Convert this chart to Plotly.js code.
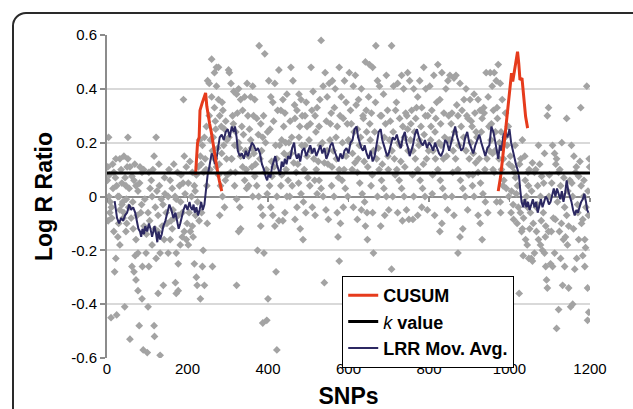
<!DOCTYPE html>
<html>
<head>
<meta charset="utf-8">
<script src="https://cdn.plot.ly/plotly-3.0.1.min.js"></script>
<style>
  html, body { margin: 0; padding: 0; background: #ffffff; overflow: hidden; }
  #frame { position: absolute; left: 12px; top: 12px; width: 700px; height: 500px;
           border: 2px solid #2a2a2a; border-radius: 14px; box-sizing: border-box; }
  #chart { position: absolute; left: 0; top: 0; width: 633px; height: 409px; }
</style>
</head>
<body>
<div id="frame"></div>
<div id="chart"></div>
<script>
// ---- data ----
const snpX = [
  4,2,5,7,12,10,24,17,22,27,32,27,37,42,47,44,32,17,24,30,37,42,47,50,22,32,40,48,15,3,8,1,14,19,
  52,57,62,67,72,77,80,87,90,100,52,57,62,67,72,77,82,87,94,54,60,65,72,84,92,97,77,70,88,
  102,117,118,127,132,122,107,112,120,127,137,142,104,110,117,130,135,144,104,112,122,132,140,147,127,102,
  170,172,177,152,157,162,167,172,177,182,187,192,197,157,162,172,180,184,190,192,197,152,164,177,187,194,
  202,207,212,217,222,224,232,242,237,204,210,217,222,227,232,237,242,247,250,230,225,220,240,244,248,202,212,235,
  260,267,272,277,254,260,267,272,277,280,284,288,292,257,262,267,272,277,282,287,292,262,280,285,297,294,254,270,298,302,
  304,308,315,322,327,332,337,342,312,320,327,332,337,342,347,307,317,322,330,332,327,322,317,344,310,335,348,
  362,357,367,372,378,392,382,387,394,352,360,367,372,377,382,387,352,362,374,382,390,387,397,400,357,365,380,392,398,
  402,407,412,417,427,432,437,442,447,422,420,407,412,417,427,437,442,447,404,410,415,422,429,434,440,445,450,432,422,
  457,462,477,482,472,467,492,497,452,457,464,470,476,482,488,494,467,472,480,487,454,460,492,497,477,484,
  507,512,522,532,537,542,547,517,527,502,507,514,520,527,532,537,544,550,510,517,504,540,547,530,540,522,
  552,560,567,577,582,590,594,557,572,587,554,562,570,577,584,592,598,564,572,580,574,577,558,587,594,600,
  602,612,617,625,632,642,644,650,607,622,637,604,610,616,622,628,634,640,646,612,622,632,642,647,627,648,
  652,660,668,672,677,687,694,657,667,682,697,654,662,670,676,682,688,694,700,662,660,672,680,690,698,656,
  707,712,722,732,737,747,707,717,727,742,702,708,714,720,726,732,738,744,750,722,734,710,728,748,740,747,
  752,762,772,777,787,792,757,767,782,797,754,760,766,772,778,784,790,796,760,772,782,794,762,776,788,
  802,812,822,827,832,842,847,807,817,837,804,810,816,822,828,834,840,846,827,832,814,844,850,808,830,
  852,862,867,872,877,887,892,857,872,882,897,854,860,866,872,878,884,890,896,862,884,877,857,892,900,
  902,912,922,927,932,942,947,907,917,937,904,910,916,922,928,934,940,946,912,927,932,922,908,944,950,
  952,962,972,957,967,977,982,960,970,990,997,954,964,974,980,986,992,998,958,968,977,984,994,962,978,
  1002,1007,1012,1020,1024,1027,1032,1034,1037,1042,1047,1004,1010,1017,1022,1030,1040,1044,1050,1014,1028,1038,1046,1032,1048,
  1054,1057,1062,1067,1072,1077,1082,1087,1090,1092,1094,1097,1094,1057,1062,1070,1077,1084,1090,1097,1052,1067,1080,1087,1072,1098,
  1102,1107,1112,1117,1122,1127,1132,1137,1142,1147,1107,1112,1117,1122,1127,1132,1137,1142,1147,1104,1114,1124,1134,1144,1130,1150,
  1152,1157,1162,1167,1172,1177,1182,1187,1192,1194,1197,1194,1154,1160,1166,1172,1178,1184,1190,1196,1157,1170,1182,1198,1199,1187,
  6,11,21,29,35,39,45,49, 55,64,69,75,81,86,91,98, 106,114,119,124,129,139,143,149, 154,159,166,169,175,183,189,199,
  206,214,219,229,234,239,246,249, 256,264,269,275,279,286,290,299,295, 303,309,314,319,324,329,339,346,350,
  354,359,364,369,376,384,389,396,399, 405,409,414,419,424,434,439,444,449, 455,459,466,474,479,485,490,495,499,
  505,509,516,519,525,529,535,545,549, 555,559,565,569,575,579,585,589,597, 605,609,614,619,624,630,636,639,645,
  653,659,665,674,679,684,689,692,699, 704,711,716,719,724,730,735,739,745, 755,759,764,769,775,780,786,791,799,
  805,809,815,819,825,829,836,839,849, 855,859,864,869,874,880,886,894,899, 905,909,914,919,925,930,936,939,949,
  955,959,965,969,975,979,985,989,999, 1005,1009,1015,1019,1025,1035,1039,1045,1049, 1055,1059,1065,1069,1075,1079,1085,1089,1099,
  1105,1109,1115,1119,1125,1129,1135,1139,1145, 1155,1159,1164,1169,1175,1179,1185,1189,1195
];
const lrrY = [
  0.22,0.11,0.0,-0.06,-0.08,-0.45,-0.44,-0.13,-0.23,-0.15,-0.18,0.0,0.05,0.15,0.04,-0.41,0.14,0.09,0.04,0.0,-0.03,-0.06,-0.13,0.11,0.14,-0.05,-0.08,-0.01,0.03,-0.09,-0.02,0.06,0.12,-0.28,
  0.22,-0.53,-0.26,-0.28,-0.31,-0.35,-0.48,-0.38,-0.57,-0.58,0.14,0.11,0.075,0.06,0.04,0.02,0.11,0.09,-0.01,-0.04,-0.08,-0.12,-0.16,-0.06,-0.11,-0.21,-0.21,-0.22,-0.26,
  -0.41,-0.48,-0.52,-0.36,-0.59,0.22,0.03,0.0,-0.04,-0.07,-0.11,-0.16,0.09,0.06,0.15,0.04,-0.01,0.01,-0.26,-0.18,-0.23,-0.21,-0.33,-0.06,-0.13,-0.06,
  -0.32,-0.36,-0.35,-0.21,-0.16,-0.12,-0.08,-0.21,-0.25,-0.18,-0.15,-0.13,-0.16,0.06,0.03,-0.01,0.04,0.08,0.36,0.15,0.11,0.0,-0.05,-0.07,-0.06,0.01,
  -0.18,-0.13,-0.11,-0.25,-0.3,-0.33,-0.38,-0.33,-0.26,-0.06,0.0,0.04,0.08,0.11,0.15,0.19,0.22,0.26,0.43,0.21,-0.02,-0.07,0.09,0.14,0.04,0.05,0.09,-0.06,
  0.51,0.46,0.48,0.48,0.42,0.37,0.33,0.41,0.36,0.3,0.26,0.32,0.25,0.21,0.17,0.14,0.11,0.08,0.04,0.0,-0.04,-0.26,-0.07,0.16,0.14,0.06,0.3,0.25,0.21,0.47,
  0.46,0.42,0.39,0.38,0.4,0.36,0.32,0.37,0.3,0.24,0.2,0.15,0.11,0.06,0.03,0.09,0.04,-0.01,-0.04,-0.12,-0.13,-0.33,0.19,0.17,0.14,0.26,0.42,
  0.41,0.37,0.36,0.29,0.56,0.53,0.27,0.22,0.2,0.15,0.11,0.075,0.04,0.0,-0.04,-0.07,0.04,0.0,-0.2,-0.11,-0.21,-0.47,-0.46,-0.38,0.21,0.16,0.14,0.09,0.01,
  0.43,0.37,0.35,0.42,0.47,0.32,0.36,0.31,0.38,-0.57,-0.28,-0.04,-0.07,-0.11,-0.09,-0.09,-0.06,0.0,0.04,0.075,0.11,0.14,0.19,0.21,0.16,0.1,0.06,0.04,0.0,
  0.48,0.43,0.38,0.36,0.32,0.29,0.3,0.26,0.2,0.16,0.125,0.09,0.05,0.01,-0.02,-0.06,-0.085,-0.04,-0.12,-0.16,0.0,0.04,0.19,0.15,0.22,0.19,
  0.48,0.39,0.33,0.58,0.41,0.46,0.37,0.3,0.26,0.21,0.17,0.14,0.1,0.06,0.03,0.0,-0.05,-0.085,-0.04,-0.07,0.04,0.125,0.17,0.19,-0.32,0.01,
  0.42,0.43,0.4,0.48,0.37,0.43,0.35,0.31,0.26,0.29,0.21,0.17,0.14,0.1,0.06,0.03,0.0,0.0,-0.06,-0.1,-0.15,-0.24,0.04,-0.04,0.15,0.21,
  0.46,0.41,0.45,0.36,0.4,0.5,0.32,0.37,0.27,0.25,0.29,0.2,0.16,0.125,0.09,0.05,0.01,-0.02,-0.06,-0.04,-0.085,-0.05,-0.11,-0.16,0.19,0.11,
  0.49,0.48,0.56,0.43,0.41,0.38,0.45,0.31,0.35,0.3,0.32,0.21,0.17,0.14,0.1,0.06,0.03,0.0,-0.05,-0.21,-0.06,0.0,-0.11,-0.07,0.15,0.04,
  0.56,0.41,0.42,0.45,0.4,0.46,-0.27,0.32,0.29,0.31,0.21,0.17,0.14,0.1,0.06,0.03,0.0,-0.05,-0.085,-0.06,-0.09,0.0,0.19,0.17,0.11,0.25,
  0.43,0.4,0.37,0.43,0.48,0.4,0.32,0.29,0.33,0.3,0.21,0.17,0.14,0.1,0.06,0.03,0.0,-0.05,-0.085,-0.07,-0.04,0.14,0.0,0.21,0.23,
  0.41,0.45,0.49,0.36,0.46,0.4,0.43,0.32,0.29,0.31,0.21,0.17,0.14,0.1,0.06,0.03,0.0,-0.05,-0.13,-0.1,-0.07,0.15,0.21,0.01,0.19,
  0.45,0.44,0.45,-0.21,0.42,0.36,0.4,0.31,0.3,0.32,0.29,0.21,0.17,0.14,0.1,0.06,0.03,0.0,-0.05,-0.07,-0.12,-0.15,0.0,0.17,0.14,
  0.36,0.38,0.36,0.32,0.29,0.46,0.37,0.26,0.24,0.31,0.2,0.16,0.125,0.09,0.05,0.01,-0.02,-0.06,0.0,-0.1,-0.16,-0.07,0.04,0.14,0.17,
  0.46,0.46,0.49,0.41,0.43,0.42,0.36,0.32,0.29,0.31,0.26,0.21,0.17,0.14,0.1,0.06,0.03,0.0,0.16,-0.02,-0.02,0.04,0.19,0.09,-0.06,
  0.15,0.11,0.09,0.04,-0.36,-0.06,-0.12,-0.22,-0.02,0.0,0.04,-0.06,-0.085,0.01,-0.04,-0.13,-0.16,-0.18,-0.12,0.19,0.14,0.15,0.09,0.21,-0.23,
  -0.23,-0.24,-0.21,-0.13,-0.16,-0.18,-0.2,-0.21,-0.26,-0.31,-0.34,0.33,0.3,0.125,0.09,0.04,0.0,-0.06,-0.11,-0.13,-0.06,-0.04,0.075,0.16,0.19,0.0,
  -0.25,-0.26,-0.21,-0.49,-0.42,-0.23,-0.33,-0.26,0.29,-0.34,0.19,0.16,0.14,0.09,0.04,0.0,-0.04,-0.07,-0.11,-0.13,-0.085,-0.13,-0.16,-0.18,0.2,0.06,
  -0.41,-0.4,-0.27,-0.23,-0.16,0.33,-0.22,-0.16,0.41,-0.46,-0.43,-0.34,0.19,0.15,0.11,0.075,0.04,0.0,-0.04,-0.07,0.0,-0.06,-0.085,0.14,0.11,-0.26,
  0.08,-0.04,0.07,-0.1,0.1,-0.02,0.07,-0.1, 0.03,-0.02,0.12,-0.07,0.05,-0.03,0.1,-0.14, -0.09,0.1,-0.12,0.02,0.12,-0.03,0.07,-0.1, 0.1,-0.09,0.12,0.0,0.09,-0.02,0.05,-0.1,
  0.13,-0.15,0.02,-0.09,0.12,-0.2,0.1,-0.1, 0.1,0.22,0.28,0.18,0.12,0.35,0.19,0.08,0.28, 0.22,0.14,0.27,0.09,0.31,0.18,0.23,0.1,0.3,
  0.25,0.18,0.3,0.12,0.23,0.17,0.3,0.1,0.24, 0.25,0.13,0.28,0.19,0.32,0.08,0.26,0.2,0.15, 0.28,0.22,0.34,0.12,0.26,0.3,0.1,0.35,0.07,
  0.27,0.32,0.06,0.24,0.13,0.36,0.2,0.28,0.12, 0.27,0.11,0.33,0.22,0.07,0.3,0.2,0.1,0.27, 0.32,0.1,0.24,0.34,0.14,0.22,0.3,0.13,0.24,
  0.27,0.08,0.24,0.18,0.3,0.12,0.22,0.27,0.1, 0.28,0.24,0.08,0.35,0.2,0.13,0.26,0.22,0.3, 0.27,0.08,0.24,0.33,0.19,0.26,0.12,0.3,0.17,
  0.26,0.08,0.24,0.35,0.2,0.27,0.14,0.22,0.3, 0.27,0.09,0.24,0.34,0.19,0.26,0.22,0.3,0.08, 0.28,0.08,0.31,0.22,0.14,0.24,0.33,0.1,0.26,
  0.27,0.1,0.24,0.33,0.2,0.24,0.14,0.22,0.12, 0.02,-0.03,0.07,-0.1,0.12,-0.08,0.06,-0.04,0.1, 0.02,-0.1,0.1,-0.03,0.12,-0.09,0.05,-0.15,0.08,
  0.05,-0.08,0.12,-0.02,0.1,-0.1,0.07,-0.15,0.02, 0.05,-0.12,0.09,-0.03,0.13,-0.1,0.06,-0.19,0.02
];

const movAvgX = [19,22,25,30,35,40,45,50,55,60,65,70,75,78,82,85,88,92,95,100,104,108,112,118,122,125,128,132,136,140,145,150,155,160,165,170,175,178,182,186,190,195,200,205,208,212,215,218,222,226,230,234,238,242,245,248,250,253,256,260,264,268,272,276,280,285,290,295,300,305,310,315,318,322,325,330,335,340,345,350,355,360,365,370,375,380,385,390,395,398,402,406,410,414,418,422,426,430,434,438,442,446,450,455,460,465,468,472,476,480,485,490,495,500,505,510,515,520,525,530,535,540,545,550,555,560,565,570,575,580,585,590,595,600,605,610,615,620,624,628,632,636,640,645,650,655,660,665,670,675,680,684,688,692,696,700,705,710,715,720,725,730,735,740,744,748,752,756,760,765,770,775,780,785,790,795,800,805,810,815,820,825,830,835,840,845,850,855,860,865,870,875,880,885,890,895,900,905,910,915,920,925,930,935,940,945,950,955,960,965,968,972,976,980,985,990,995,1000,1004,1008,1012,1016,1020,1024,1027,1030,1034,1038,1042,1046,1050,1054,1058,1062,1066,1070,1074,1078,1082,1086,1090,1094,1098,1102,1106,1110,1114,1118,1122,1126,1130,1134,1138,1142,1146,1150,1154,1158,1162,1166,1170,1174,1178,1182,1186,1190,1193,1196];
const movAvgY = [-0.017,-0.05,-0.08,-0.1,-0.08,-0.09,-0.07,-0.06,-0.03,-0.05,-0.04,-0.06,-0.1,-0.12,-0.13,-0.15,-0.12,-0.14,-0.11,-0.13,-0.1,-0.12,-0.15,-0.11,-0.14,-0.17,-0.13,-0.16,-0.14,-0.11,-0.09,-0.06,-0.03,-0.05,-0.08,-0.06,-0.1,-0.12,-0.1,-0.07,-0.05,-0.03,-0.05,-0.02,-0.04,-0.05,-0.03,-0.06,-0.04,-0.07,-0.05,-0.02,-0.05,-0.03,0.02,0.04,0.08,0.1,0.13,0.16,0.15,0.12,0.14,0.18,0.22,0.23,0.21,0.24,0.25,0.22,0.26,0.24,0.26,0.22,0.17,0.15,0.16,0.14,0.17,0.15,0.18,0.2,0.19,0.17,0.18,0.16,0.12,0.1,0.07,0.06,0.09,0.07,0.11,0.13,0.15,0.12,0.1,0.08,0.13,0.11,0.14,0.12,0.15,0.14,0.18,0.2,0.16,0.14,0.16,0.13,0.17,0.18,0.15,0.17,0.19,0.16,0.18,0.15,0.17,0.19,0.16,0.18,0.14,0.16,0.19,0.2,0.17,0.15,0.13,0.16,0.14,0.17,0.18,0.16,0.2,0.21,0.25,0.26,0.22,0.2,0.18,0.17,0.19,0.16,0.14,0.17,0.13,0.15,0.19,0.24,0.25,0.21,0.19,0.17,0.15,0.16,0.19,0.22,0.21,0.23,0.2,0.18,0.22,0.24,0.2,0.18,0.15,0.17,0.19,0.23,0.25,0.22,0.2,0.19,0.21,0.18,0.2,0.19,0.17,0.2,0.18,0.16,0.15,0.17,0.21,0.2,0.17,0.2,0.22,0.26,0.22,0.19,0.17,0.18,0.22,0.24,0.2,0.18,0.16,0.19,0.21,0.23,0.2,0.17,0.15,0.18,0.19,0.26,0.24,0.2,0.17,0.14,0.19,0.17,0.23,0.24,0.22,0.25,0.2,0.17,0.15,0.12,0.1,0.07,0.02,-0.02,-0.04,-0.01,-0.04,-0.02,-0.05,-0.03,-0.01,-0.04,-0.02,-0.06,-0.03,-0.01,-0.04,-0.02,0.0,-0.01,-0.03,-0.02,0.01,0.03,0.0,0.03,0.01,-0.01,0.02,-0.02,0.01,0.06,0.02,0.0,-0.02,-0.05,-0.07,-0.05,-0.06,-0.04,-0.02,-0.01,0.01,-0.02,-0.05,-0.06];

const cusum1X = [220,225,229,231,236,241,245,248,251,255,259,263,267,271,275,279,283,285];
const cusum1Y = [0.081,0.2,0.22,0.32,0.345,0.37,0.385,0.335,0.3,0.27,0.24,0.2,0.165,0.13,0.09,0.06,0.035,0.02];
const cusum2X = [972,978,986,994,1000,1005,1008,1013,1016,1020,1023,1026,1031,1036,1040,1045];
const cusum2Y = [0.02,0.075,0.186,0.31,0.396,0.458,0.427,0.47,0.495,0.538,0.495,0.433,0.44,0.371,0.297,0.254];

const kValue = 0.087;
const kX = [0, 1200];
const kY = [kValue, kValue];

const yTicks = [-0.6, -0.4, -0.2, 0, 0.2, 0.4, 0.6];
const yTickText = ['-0.6', '-0.4', '-0.2', '0', '0.2', '0.4', '0.6'];
const xTicks = [0, 200, 400, 600, 800, 1000, 1200];

const traces = [
  { x: snpX, y: lrrY, type: 'scatter', mode: 'markers', showlegend: false,
    marker: { symbol: 'diamond', size: 6, color: '#a3a3a3' }, hoverinfo: 'skip' },
  { x: kX, y: kY, xaxis: 'x2', type: 'scatter', mode: 'lines', name: '<i>k</i><b> value</b>',
    line: { color: '#000000', width: 3 }, legendrank: 2 },
  { x: movAvgX, y: movAvgY, type: 'scatter', mode: 'lines', name: '<b>LRR Mov. Avg.</b>',
    line: { color: '#2c2862', width: 2 }, legendrank: 3 },
  { x: cusum1X, y: cusum1Y, type: 'scatter', mode: 'lines', name: '<b>CUSUM</b>', legendgroup: 'c',
    line: { color: '#e63b1c', width: 3 }, legendrank: 1 },
  { x: cusum2X, y: cusum2Y, type: 'scatter', mode: 'lines', name: '<b>CUSUM</b>', legendgroup: 'c',
    showlegend: false, line: { color: '#e63b1c', width: 3 } }
];

const layout = {
  width: 633, height: 409,
  margin: { l: 107, r: 43, t: 35, b: 51 },
  paper_bgcolor: 'rgba(0,0,0,0)', plot_bgcolor: 'rgba(0,0,0,0)',
  font: { family: 'Liberation Sans, Arial, sans-serif', color: '#000000', size: 15 },
  showlegend: true,
  legend: { x: 0.487, y: 0.254, xanchor: 'left', yanchor: 'top',
            bgcolor: '#ffffff', bordercolor: '#000000', borderwidth: 1,
            font: { size: 18, color: '#000000' }, traceorder: 'normal' },
  xaxis: { range: [0, 1200], tickvals: xTicks, ticks: '', showgrid: false, zeroline: false,
           showline: false, tickfont: { size: 15, color: '#000000' },
           title: { text: '<b>SNPs</b>', font: { size: 23, color: '#000000' }, standoff: 16 } },
  xaxis2: { range: [0, 1200], overlaying: 'x', anchor: 'free', position: 0.5, side: 'bottom',
            tickvals: xTicks, ticks: 'outside', ticklen: 4, tickwidth: 1.5, tickcolor: '#8c8c8c',
            showticklabels: false, showgrid: false, zeroline: false, showline: false },
  yaxis: { range: [-0.6, 0.6], tickvals: yTicks, ticktext: yTickText, ticks: 'outside', ticklen: 5,
           tickwidth: 2, tickcolor: '#8c8c8c', showline: true, linecolor: '#8c8c8c', linewidth: 2,
           showgrid: true, gridcolor: '#d9d9d9', gridwidth: 2,
           zeroline: true, zerolinecolor: '#8c8c8c', zerolinewidth: 2, tickfont: { size: 15, color: '#000000' },
           title: { text: '<b>Log R Ratio</b>', font: { size: 23, color: '#000000' }, standoff: 12 } }
};

Plotly.newPlot('chart', traces, layout, { displayModeBar: false, staticPlot: true });
</script>
</body>
</html>
